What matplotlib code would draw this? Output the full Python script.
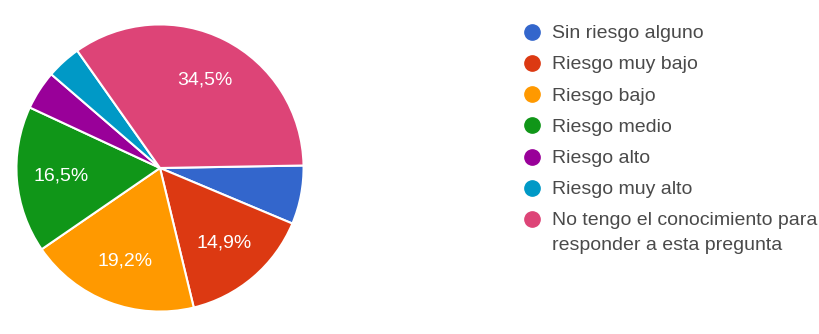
import matplotlib.pyplot as plt

plt.rcParams['font.family'] = ['Liberation Sans', 'DejaVu Sans']

# Categorías y porcentajes
labels = ['Sin riesgo alguno', 'Riesgo muy bajo', 'Riesgo bajo', 'Riesgo medio',
          'Riesgo alto', 'Riesgo muy alto',
          'No tengo el conocimiento para\nresponder a esta pregunta']
values = [6.6, 14.9, 19.2, 16.5, 4.4, 3.9, 34.5]
colors = ['#3366cc', '#dc3912', '#ff9900', '#109618', '#990099', '#0099c6', '#dd4477']


def pct_label(p):
    # solo se rotulan las porciones grandes, con coma decimal
    if p < 10:
        return ''
    return '{:.1f}%'.format(p).replace('.', ',')


fig = plt.figure(figsize=(8.2, 3.34), dpi=100)
ax = fig.add_axes([15 / 820, 21 / 334, 290 / 820, 290 / 334])

wedges, texts, autotexts = ax.pie(values, colors=colors, startangle=1, counterclock=False,
                                  autopct=pct_label, pctdistance=0.69,
                                  wedgeprops={'edgecolor': 'white', 'linewidth': 1.5},
                                  textprops={'color': 'white', 'fontsize': 14})
ax.set_xlim(-1.01, 1.01)
ax.set_ylim(-1.01, 1.01)
ax.set_aspect('equal')

# Leyenda dibujada a mano en coordenadas de píxel (marcador en la primera línea)
lax = fig.add_axes([0, 0, 1, 1])
lax.set_xlim(0, 820)
lax.set_ylim(334, 0)
lax.axis('off')
row_y0 = 31.7
row_step = 31.2
line_step = 25
for i, (lab, c) in enumerate(zip(labels, colors)):
    y = row_y0 + row_step * i
    lax.plot(532, y, marker='o', markersize=11, color=c, linestyle='none')
    for k, line in enumerate(lab.split('\n')):
        lax.text(552, y + k * line_step, line, fontsize=14, color='#4a4a4a',
                 va='center_baseline', ha='left')

fig.savefig('out.png', dpi=100)
